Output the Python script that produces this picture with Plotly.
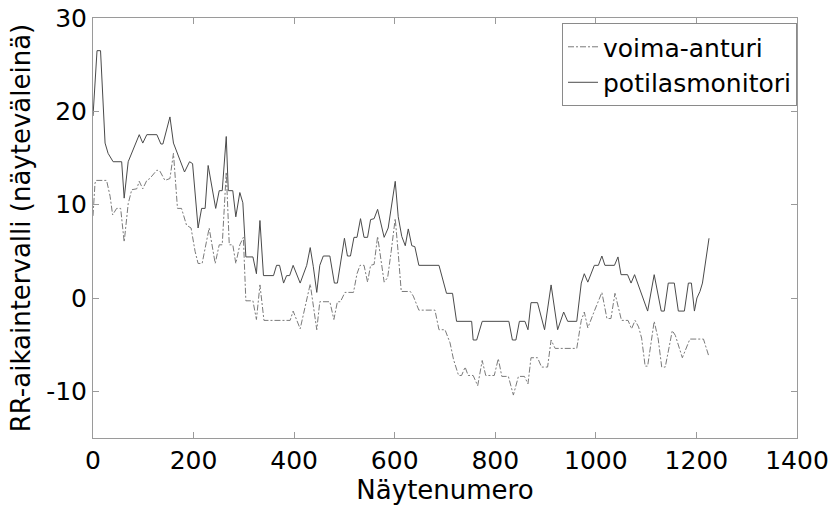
import plotly.graph_objects as go

# RR-intervals (in samples) from the patient monitor, read at sample indices
monitor_x = [0, 8, 15, 20, 24, 30, 40, 57, 62, 70, 92, 99, 107, 127, 135, 139, 153, 160,
             182, 192, 198, 209, 216, 223, 229, 244, 251, 257, 265, 269, 278, 284, 292,
             298, 304, 318, 325, 332, 339, 359, 365, 371, 379, 385, 391, 398, 412, 425,
             432, 438, 445, 451, 458, 471, 480, 486, 500, 506, 512, 519, 525, 532, 539,
             546, 552, 559, 566, 579, 587, 601, 607, 614, 621, 627, 634, 640, 648, 688,
             697, 703, 715, 723, 753, 756, 763, 774, 827, 834, 841, 848, 859, 865, 871,
             884, 898, 911, 924, 936, 944, 962, 971, 977, 984, 997, 1005, 1012, 1018,
             1037, 1044, 1050, 1063, 1070, 1077, 1083, 1090, 1103, 1116, 1130, 1136,
             1144, 1156, 1164, 1176, 1184, 1190, 1196, 1201, 1207, 1212, 1218, 1225]
monitor_y = [19.5, 26.5, 26.5, 20.0, 16.6, 15.5, 14.6, 14.6, 10.7, 14.6, 17.5, 16.6, 17.5,
             17.5, 16.5, 16.5, 19.4, 16.6, 13.5, 14.6, 14.4, 7.5, 9.6, 9.6, 14.2, 9.6,
             11.5, 11.5, 17.3, 11.5, 11.5, 8.7, 11.3, 10.2, 4.4, 4.4, 2.6, 8.3, 2.4, 2.4,
             3.5, 3.5, 1.6, 2.4, 2.4, 3.5, 1.6, 3.5, 5.4, 3.4, 0.6, 3.5, 4.5, 4.5, 1.6,
             1.6, 6.4, 4.5, 4.5, 6.5, 6.5, 8.5, 6.5, 6.5, 8.4, 8.5, 9.5, 6.5, 7.5, 12.5,
             8.7, 6.6, 5.6, 7.4, 5.6, 5.5, 3.5, 3.5, 1.5, 0.5, 0.5, -2.5, -2.5, -4.5,
             -4.5, -2.5, -2.5, -4.5, -4.5, -2.5, -2.5, -3.4, -0.5, -0.5, -3.4, 1.4, -3.4,
             -1.5, -2.5, -2.5, 1.6, 2.6, 1.7, 3.5, 3.5, 4.5, 3.5, 3.5, 4.4, 2.5, 2.5,
             1.6, 2.5, 1.6, 0.7, -1.4, 2.5, -1.4, -1.4, 1.6, 1.6, -1.4, -1.4, 1.6, 1.6,
             -1.4, 0.0, 0.7, 1.6, 4.1, 6.4]

# RR-intervals (in samples) from the force sensor
sensor_x = [0, 4, 6, 27, 34, 39, 47, 55, 62, 70, 77, 87, 92, 99, 107, 113, 127, 133, 143,
            153, 160, 168, 176, 186, 195, 203, 209, 217, 231, 243, 251, 257, 265, 271,
            278, 284, 292, 299, 304, 318, 325, 332, 340, 392, 398, 412, 432, 445, 451,
            471, 479, 486, 492, 501, 518, 525, 531, 539, 546, 552, 559, 566, 579, 586,
            593, 601, 607, 613, 631, 637, 648, 680, 688, 700, 710, 717, 727, 733, 740,
            746, 756, 765, 774, 781, 798, 806, 813, 826, 836, 846, 858, 865, 871, 884,
            892, 904, 911, 919, 962, 971, 977, 984, 997, 1005, 1012, 1022, 1030, 1038,
            1051, 1064, 1071, 1078, 1085, 1091, 1098, 1103, 1116, 1124, 1131, 1138,
            1152, 1158, 1172, 1187, 1214, 1225]
sensor_y = [8.8, 12.3, 12.6, 12.6, 10.9, 8.9, 9.6, 9.6, 6.0, 10.1, 11.6, 11.7, 12.5, 11.7,
            12.6, 12.8, 13.7, 13.6, 12.6, 12.8, 15.5, 9.6, 9.6, 7.8, 7.5, 5.0, 3.7, 3.7,
            7.5, 3.7, 5.7, 5.7, 13.5, 5.7, 5.7, 3.7, 5.7, 6.5, -0.3, -0.3, -2.3, 1.4,
            -2.4, -2.4, -1.4, -3.3, 1.5, -3.4, -0.4, -0.4, -2.3, -0.4, -0.4, 0.6, 0.6,
            2.6, 3.5, 3.5, 1.7, 3.5, 3.6, 6.6, 1.7, 2.2, 5.0, 8.5, 4.8, 0.7, 0.7, 0.2,
            -1.3, -1.3, -3.4, -3.4, -4.8, -6.6, -8.3, -8.3, -7.4, -8.3, -8.3, -9.4, -6.7,
            -8.3, -8.3, -6.5, -8.4, -8.4, -10.4, -8.4, -8.4, -9.2, -6.4, -6.4, -7.4,
            -7.4, -4.5, -5.4, -5.4, -2.4, -1.5, -3.2, -1.4, -0.3, 0.6, -2.2, -2.2, 0.5,
            -2.4, -2.4, -3.3, -2.4, -3.1, -4.3, -7.3, -7.3, -2.5, -4.4, -7.4, -7.4,
            -3.5, -4.0, -6.4, -4.4, -4.4, -6.3]

x_ticks = [0, 200, 400, 600, 800, 1000, 1200, 1400]
y_ticks = [-10, 0, 10, 20, 30]

FONT = "DejaVu Sans"
AXIS_GREY = "#9a9a9a"

fig = go.Figure()
fig.add_trace(go.Scatter(
    x=sensor_x, y=sensor_y, mode="lines", name="voima-anturi",
    line=dict(color="#7a7a7a", width=1, dash="6px,2px,2px,2px"),
))
fig.add_trace(go.Scatter(
    x=monitor_x, y=monitor_y, mode="lines", name="potilasmonitori",
    line=dict(color="#4a4a4a", width=1),
))

axis_common = dict(
    showline=True, linecolor=AXIS_GREY, linewidth=1, mirror="ticks",
    ticks="inside", ticklen=6, tickcolor=AXIS_GREY, tickwidth=1,
    showgrid=False, zeroline=False, automargin=False,
    tickfont=dict(family=FONT, size=25, color="#000000"),
)

fig.update_xaxes(
    range=[0, 1400], tickvals=x_ticks, ticktext=[str(v) for v in x_ticks],
    title=dict(text="Näytenumero", font=dict(family=FONT, size=26, color="#000000"),
               standoff=6),
    **axis_common,
)
fig.update_yaxes(
    range=[-15, 30], tickvals=y_ticks, ticktext=[str(v) for v in y_ticks],
    title=dict(text="RR-aikaintervalli (näyteväleinä)",
               font=dict(family=FONT, size=26, color="#000000"), standoff=8),
    **axis_common,
)

fig.update_layout(
    width=832, height=506,
    margin=dict(l=93, r=35, t=18, b=68),
    paper_bgcolor="#ffffff", plot_bgcolor="#ffffff",
    font=dict(family=FONT, size=25, color="#000000"),
    showlegend=True,
    legend=dict(
        x=1.0, xanchor="right", y=0.988, yanchor="top",
        bgcolor="#ffffff", bordercolor="#8a8a8a", borderwidth=1,
        font=dict(family=FONT, size=25, color="#000000"),
        itemwidth=30, tracegroupgap=0,
    ),
)

fig.write_html("out.html")
